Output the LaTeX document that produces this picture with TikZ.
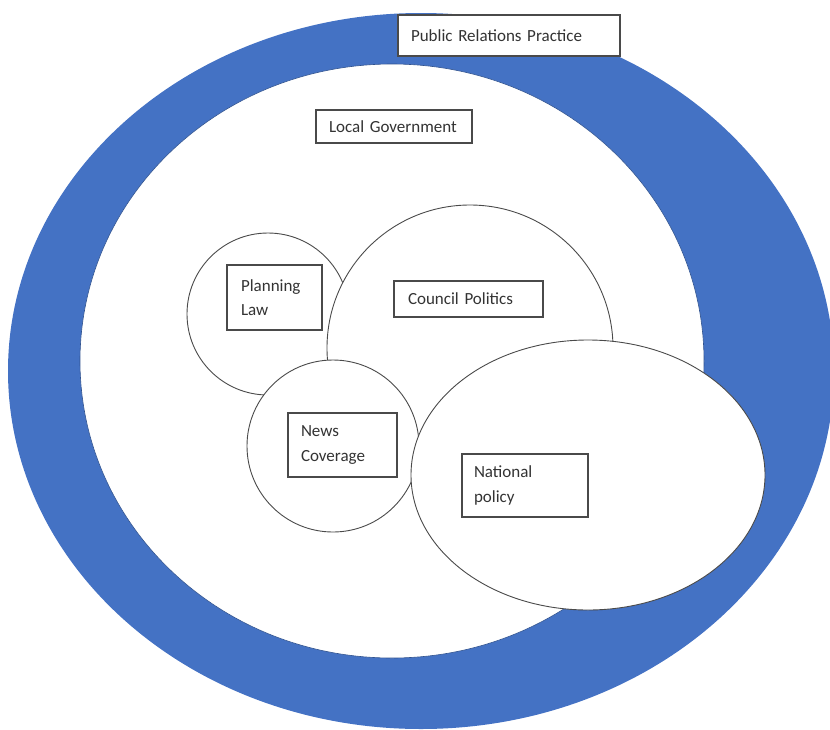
\documentclass[tikz,border=0pt]{standalone}
\usepackage{fontspec}
\setmainfont{Carlito}
\usetikzlibrary{shapes.geometric}
\definecolor{prblue}{HTML}{4472C4}
\definecolor{edgeblue}{HTML}{2F528F}
\definecolor{linegray}{HTML}{4A4A4A}
\definecolor{txtgray}{HTML}{333333}
\begin{document}
\begin{tikzpicture}[x=1pt,y=-1pt,
  ring/.style={ellipse, inner sep=0pt},
  venn/.style={draw=linegray, line width=0.9pt, fill=white, inner sep=0pt},
  tbox/.style={rectangle, draw=linegray, line width=1.3pt, fill=white, align=left,
    inner xsep=13pt, inner ysep=0pt, text=txtgray,
    font=\fontsize{17}{24.5}\selectfont}]
\useasboundingbox (0,0) rectangle (830,729);
% outer ring and inner area
\node[ring, fill=prblue, minimum width=826pt, minimum height=716pt] (pr) at (421,371) {};
\node[ring, fill=white, draw=edgeblue, line width=0.6pt, minimum width=624pt, minimum height=594pt] (lg) at (392,361) {};
% sets
\node[venn, circle, minimum size=162pt] (plc) at (268,314) {};
\node[venn, circle, minimum size=286pt] (cpc) at (470,348) {};
\node[venn, circle, minimum size=172pt] (ncc) at (333,446) {};
\node[venn, ellipse, minimum width=354pt, minimum height=270pt] (npe) at (588,475) {};
% labels
\node[tbox, text width=196pt, minimum height=41pt] (prbox) at (509,35.5) {Public Relations Practice};
\node[tbox, text width=130pt, minimum height=33pt] (lgbox) at (394,126.5) {Local Government};
\node[tbox, text width=67pt, inner xsep=14pt, minimum height=65pt] (plbox) at (274.5,297.5) {Planning\\Law};
\node[tbox, text width=121pt, inner xsep=14pt, minimum height=36pt] (cpbox) at (468.5,299) {Council Politics};
\node[tbox, text width=83pt, minimum height=64pt] (ncbox) at (342.5,445) {News\\Coverage};
\node[tbox, text width=102pt, inner xsep=12pt, minimum height=63pt] (npbox) at (525,485.5) {National\\policy};
\end{tikzpicture}
\end{document}
